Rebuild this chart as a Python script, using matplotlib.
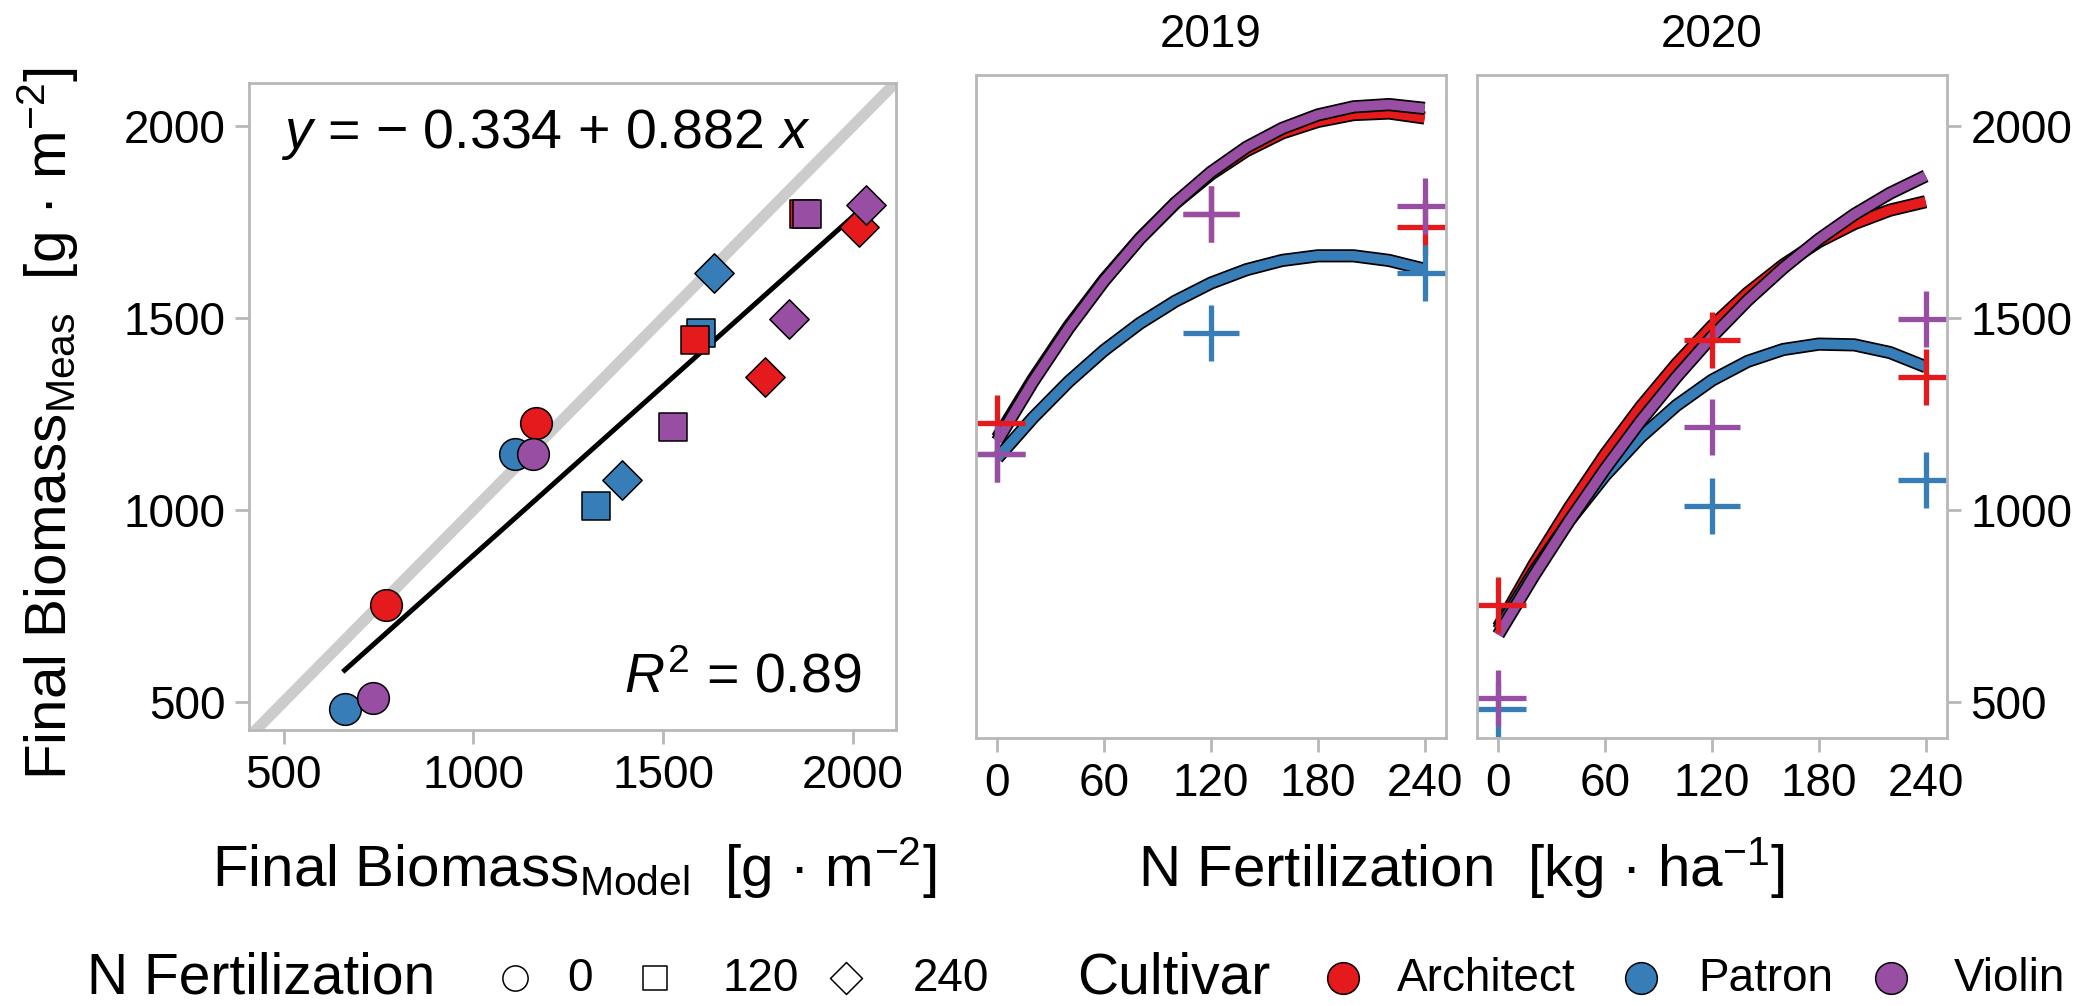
import matplotlib.pyplot as plt
import matplotlib.patheffects as pe
import numpy as np

plt.rcParams['font.family'] = ['Liberation Sans', 'DejaVu Sans']
plt.rcParams['mathtext.fontset'] = 'custom'
plt.rcParams['mathtext.rm'] = 'Liberation Sans'
plt.rcParams['mathtext.it'] = 'Liberation Sans:italic'
plt.rcParams['mathtext.bf'] = 'Liberation Sans:bold'

# categories
cultivars = ['Architect', 'Patron', 'Violin']
colors = ['#E41A1C', '#377EB8', '#984EA3']
years = ['2019', '2020']
n_levels = [0, 120, 240]
n_markers = ['o', 's', 'D']

# final biomass [g m-2], rows = cultivar, cols = N level
meas_2019 = [[1226, 1770, 1736], [1147, 1460, 1617], [1147, 1771, 1793]]
meas_2020 = [[753, 1443, 1346], [481, 1010, 1079], [510, 1217, 1497]]
model_2019 = [[1166, 1872, 2017], [1110, 1600, 1635], [1157, 1879, 2036]]
model_2020 = [[770, 1585, 1770], [661, 1323, 1393], [735, 1527, 1832]]

# simulated response curves over N rate
curve_n = [0, 20, 40, 60, 80, 100, 120, 140, 160, 180, 200, 220, 240]
curve_2019 = [[1188, 1340, 1478, 1600, 1707, 1799, 1875, 1936, 1982, 2012, 2030, 2034, 2021],
              [1135, 1240, 1334, 1416, 1486, 1544, 1591, 1626, 1650, 1662, 1662, 1650, 1627],
              [1180, 1334, 1473, 1597, 1706, 1800, 1880, 1945, 1994, 2029, 2050, 2056, 2046]]
curve_2020 = [[695, 858, 1007, 1145, 1269, 1380, 1479, 1565, 1638, 1699, 1746, 1781, 1803],
              [688, 839, 973, 1090, 1190, 1272, 1338, 1387, 1418, 1432, 1430, 1410, 1373],
              [675, 829, 973, 1107, 1232, 1346, 1451, 1546, 1630, 1705, 1770, 1825, 1870]]

intercept, slope, r2 = -0.334, 0.882, 0.89

W, H = 2096, 1006
fig = plt.figure(figsize=(W / 100, H / 100), dpi=100)

def box(l, t, r, b):
    return [l / W, 1 - b / H, (r - l) / W, (b - t) / H]

grey = '#B8B8B8'
tick_fs = 33
lab_fs = 42

def style(ax):
    for s in ax.spines.values():
        s.set_color(grey)
        s.set_linewidth(2)
    ax.tick_params(length=10, width=2, color=grey, labelsize=tick_fs, pad=7)

# ---- left: modelled vs measured
ax0 = fig.add_axes(box(249, 83, 896, 730))
style(ax0)
ax0.set_xlim(409, 2114)
ax0.set_ylim(427, 2112)
ax0.set_xticks([500, 1000, 1500, 2000])
ax0.set_yticks([500, 1000, 1500, 2000])
ax0.axline((0, 0), slope=1, color='#CCCCCC', lw=8, zorder=1)

all_model = np.array(model_2019 + model_2020).ravel()
xs = np.array([all_model.min(), all_model.max()])
ax0.plot(xs, intercept + slope * xs, color='black', lw=3.6, zorder=2)

sizes = [520, 400, 400]
for model, meas in [(model_2019, meas_2019), (model_2020, meas_2020)]:
    for ci, col in enumerate(colors):
        for ni, mk in enumerate(n_markers):
            ax0.scatter(model[ci][ni], meas[ci][ni], marker=mk, s=sizes[ni],
                        facecolor=col, edgecolor='black', linewidth=1.1, zorder=3)

ax0.text(0.05, 0.92, r'$y$ = − 0.334 + 0.882 $x$', transform=ax0.transAxes,
         fontsize=40, ha='left', va='center')
ax0.text(0.947, 0.08, r'$R^2$ = %.2f' % r2, transform=ax0.transAxes,
         fontsize=40, ha='right', va='center')

# ---- right: response to N per year
ax1 = fig.add_axes(box(976, 75, 1446, 738))
ax2 = fig.add_axes(box(1477, 75, 1947, 738))
for ax, yr, curves, meas in [(ax1, years[0], curve_2019, meas_2019),
                             (ax2, years[1], curve_2020, meas_2020)]:
    style(ax)
    ax.set_xlim(-12, 252)
    ax.set_ylim(406, 2133)
    ax.set_xticks([0, 60, 120, 180, 240])
    ax.set_yticks([500, 1000, 1500, 2000])
    ax.set_title(yr, fontsize=tick_fs, pad=20)
    for ci, col in enumerate(colors):
        ax.plot(curve_n, curves[ci], color=col, lw=7, solid_capstyle='butt',
                solid_joinstyle='round',
                path_effects=[pe.Stroke(linewidth=9.5, foreground='black'), pe.Normal()])
    for ci, col in enumerate(colors):
        ax.plot(n_levels, meas[ci], '+', color=col, ms=40, mew=3.8)

ax1.tick_params(axis='y', left=False, labelleft=False)
ax2.yaxis.tick_right()

fig.text(574 / W, 1 - 868 / H, r'Final Biomass$_{\mathrm{Model}}$  [g · m$^{-2}$]',
         fontsize=lab_fs, ha='center', va='center')
fig.text(1461 / W, 1 - 868 / H, r'N Fertilization  [kg · ha$^{-1}$]',
         fontsize=lab_fs, ha='center', va='center')
fig.text(48 / W, 1 - 424 / H, r'Final Biomass$_{\mathrm{Meas}}$  [g · m$^{-2}$]',
         fontsize=lab_fs, ha='center', va='center', rotation=90)

# ---- legends along the bottom
lg = fig.add_axes([0, 0, 1, 1], zorder=-1)
lg.set_axis_off()
lg.set_xlim(0, W)
lg.set_ylim(H, 0)
ly = 978
lg.text(87, 993, 'N Fertilization', fontsize=41, va='baseline')
for mk, ms, mx, tx, n in zip(n_markers, [330, 300, 265], [515, 655, 846],
                             [567, 722, 913], n_levels):
    lg.scatter(mx, ly, marker=mk, s=ms, facecolor='white', edgecolor='black', linewidth=1.1)
    lg.text(tx, 991, str(n), fontsize=tick_fs, va='baseline')
lg.text(1077, 993, 'Cultivar', fontsize=41, va='baseline')
for name, col, mx, tx in zip(cultivars, colors, [1343, 1641, 1891], [1397, 1698, 1954]):
    lg.scatter(mx, ly, marker='o', s=520, facecolor=col, edgecolor='black', linewidth=1.1)
    lg.text(tx, 991, name, fontsize=tick_fs, va='baseline')

fig.savefig('out.png', dpi=100)
